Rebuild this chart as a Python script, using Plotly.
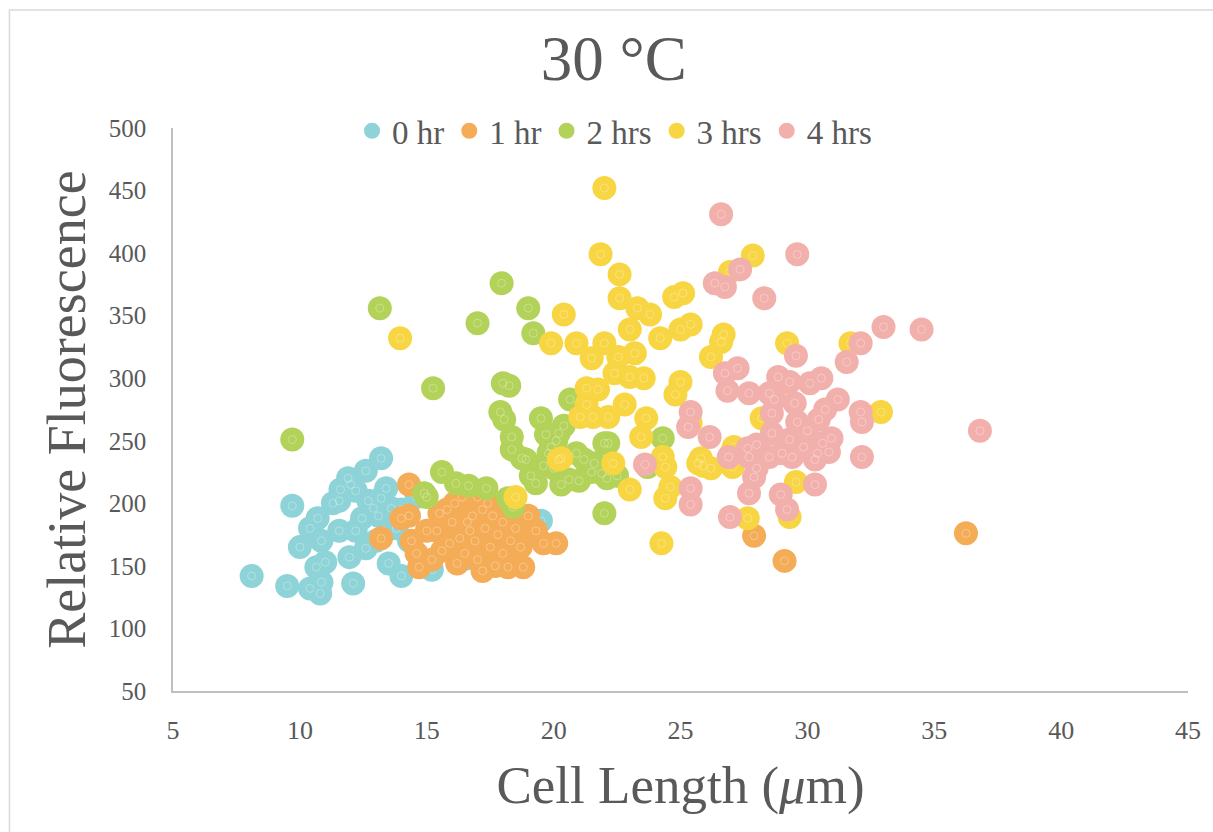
import plotly.graph_objects as go

# ---- data ----
series_names = ["0 hr", "1 hr", "2 hrs", "3 hrs", "4 hrs"]
series_colors = ["#8DD3D7", "#F4AC56", "#B2D259", "#F8D542", "#F2B0AC"]

hr0_x = [8.1, 9.5, 9.7, 10.0, 10.4, 10.7, 10.85, 11.0, 10.65, 10.4, 10.8, 10.85, 11.55, 11.9, 11.6, 11.55,
         11.95, 12.1, 12.6, 13.2, 12.2, 12.7, 13.2, 12.45, 13.0, 13.5, 14.0, 12.2, 12.6, 13.1, 13.6, 14.0,
         14.6, 15.2, 16.6, 19.5, 13.8, 12.9, 11.3, 12.0, 13.4, 14.3]
hr0_y = [142, 134, 198, 165, 180, 188, 170, 153, 149, 132, 128, 137, 178, 220, 211, 202,
         157, 136, 226, 236, 210, 202, 204, 188, 170, 152, 142, 178, 164, 190, 196, 195,
         205, 147, 156, 186, 180, 196, 200, 215, 212, 170]

hr1_x = [14.3, 13.2, 14.4, 14.7, 14.0, 14.3, 15.0, 15.4, 15.6, 15.2, 15.8, 16.1, 16.0, 16.3, 16.5, 16.8,
         17.0, 17.2, 17.3, 17.2, 17.5, 17.8, 16.7, 16.9, 17.0, 17.6, 18.0, 18.2, 18.3, 18.5, 18.8, 18.7,
         19.0, 19.3, 19.6, 20.1, 16.4, 16.6, 15.9, 17.4, 18.0, 16.2, 15.5, 14.6, 17.7, 27.9, 29.1, 36.25]
hr1_y = [215, 172, 170, 149, 188, 190, 178, 178, 162, 155, 195, 200, 185, 172, 160, 190,
         205, 195, 180, 146, 165, 175, 178, 170, 155, 190, 185, 149, 170, 180, 149, 165,
         190, 178, 168, 168, 205, 185, 168, 200, 160, 152, 192, 160, 150, 174, 154, 176]

hr2_x = [9.7, 13.15, 15.25, 15.0, 17.95, 17.0, 19.0, 19.2, 18.0, 18.25, 17.9, 18.05, 19.5, 20.65, 18.35,
         18.35, 18.75, 20.2, 21.2, 22.0, 15.6, 16.15, 16.65, 17.35, 14.9, 19.3, 20.6, 18.4, 19.6, 19.9,
         20.4, 20.1, 19.1, 20.0, 21.5, 21.0, 22.1, 22.0, 22.15, 24.3, 20.9, 19.7, 21.6, 18.9, 21.9, 22.5,
         20.3, 19.8, 18.2, 23.7]
hr2_y = [251, 356, 292, 205, 376, 344, 356, 336, 296, 294, 273, 267, 268, 283, 253,
         243, 236, 256, 235, 248, 225, 216, 214, 212, 208, 216, 219, 197, 230, 245,
         262, 250, 222, 228, 225, 218, 220, 192, 248, 252, 240, 255, 232, 235, 224, 222,
         215, 240, 204, 229]

hr3_x = [13.95, 22.0, 21.85, 22.6, 22.6, 23.3, 23.8, 24.75, 25.1, 23.0, 24.2, 25.0, 25.4, 20.4, 19.9,
         20.9, 22.0, 21.5, 22.55, 23.2, 22.4, 23.0, 23.55, 25.0, 24.8, 26.7, 26.6, 26.2, 27.85, 26.95,
         21.3, 21.75, 21.3, 21.05, 21.55, 22.15, 22.8, 23.65, 23.45, 25.4, 25.7, 26.2, 27.0, 24.3, 24.4,
         24.4, 24.25, 23.0, 22.35, 20.2, 18.5, 27.65, 29.2, 31.7, 32.9, 29.55, 29.3, 25.8, 27.1, 27.05,
         28.2, 25.9, 29.0, 24.6, 20.3]
hr3_y = [332, 452, 399, 383, 364, 356, 351, 365, 368, 339, 332, 339, 343, 351, 328,
         328, 328, 316, 317, 320, 304, 301, 300, 297, 287, 335, 329, 317, 398, 385,
         292, 291, 279, 269, 269, 269, 279, 268, 253, 264, 232, 228, 240, 237, 229,
         204, 168, 211, 232, 235, 205, 188, 328, 328, 273, 217, 189, 236, 245, 229,
         268, 230, 296, 213, 236]

hr4_x = [26.6, 29.6, 26.35, 26.75, 27.35, 28.3, 33.0, 34.5, 29.55, 32.1, 31.55, 26.75, 27.25, 26.85,
         27.7, 28.85, 29.3, 28.5, 29.5, 30.1, 30.55, 31.2, 30.7, 30.45, 32.1, 32.15, 36.8, 32.15, 25.4,
         25.3, 26.15, 23.6, 26.9, 27.7, 28.5, 28.0, 28.6, 28.6, 28.7, 29.3, 29.85, 30.4, 30.95, 30.85,
         29.4, 28.0, 27.9, 30.3, 30.3, 27.7, 28.95, 29.2, 25.4, 25.4, 26.95, 27.65, 30.0, 29.6, 29.0, 30.6]
hr4_y = [431, 399, 376, 373, 387, 364, 341, 339, 318, 328, 313, 304, 308, 290,
         288, 301, 297, 288, 280, 296, 300, 283, 275, 267, 273, 265, 258, 237, 273,
         261, 253, 231, 237, 237, 237, 247, 256, 272, 283, 251, 245, 240, 252, 241,
         237, 228, 221, 235, 215, 208, 207, 195, 212, 199, 189, 244, 258, 265, 240, 248]

x_ticks = [5, 10, 15, 20, 25, 30, 35, 40, 45]
y_ticks = [50, 100, 150, 200, 250, 300, 350, 400, 450, 500]

xs = [hr0_x, hr1_x, hr2_x, hr3_x, hr4_x]
ys = [hr0_y, hr1_y, hr2_y, hr3_y, hr4_y]

FONT = "Liberation Serif, Times New Roman, serif"
TXT = "#595959"

fig = go.Figure()
for name, col, x, y in zip(series_names, series_colors, xs, ys):
    fig.add_trace(go.Scatter(
        x=x, y=y, mode="markers", name=name,
        marker=dict(size=24, color=col, line=dict(width=0)),
        legendgroup=name,
    ))
    fig.add_trace(go.Scatter(
        x=x, y=y, mode="markers", showlegend=False, hoverinfo="skip",
        legendgroup=name,
        marker=dict(size=8, symbol="circle-open", color="rgba(255,255,255,0.3)",
                    line=dict(width=1, color="rgba(255,255,255,0.3)")),
    ))

fig.update_layout(
    width=1213, height=832,
    margin=dict(l=173, r=16, t=128, b=141),
    paper_bgcolor="white", plot_bgcolor="white",
    font=dict(family=FONT, color=TXT),
    title=dict(text="30 °C", x=0.506, xanchor="center", y=0.93, yanchor="middle",
               font=dict(size=63, family=FONT, color=TXT)),
    legend=dict(orientation="h", x=0.435, xanchor="center", y=0.995, yanchor="middle",
                font=dict(size=33, family=FONT, color=TXT), itemsizing="trace",
                bgcolor="rgba(0,0,0,0)", tracegroupgap=0, itemwidth=30),
    showlegend=True,
)
fig.update_xaxes(
    range=[5, 45], tickvals=x_ticks, showgrid=False, zeroline=False,
    showline=True, linecolor="#BFBFBF", linewidth=1.5,
    ticks="outside", ticklen=15, tickcolor="rgba(0,0,0,0)",
    ticklabeloverflow="allow",
    tickfont=dict(size=26, family=FONT, color=TXT),
    title=dict(text="Cell Length (<i>μ</i>m)", font=dict(size=53, family=FONT, color=TXT), standoff=22),
)
fig.update_yaxes(
    range=[50, 500], tickvals=y_ticks, showgrid=False, zeroline=False,
    showline=True, linecolor="#BFBFBF", linewidth=1.5,
    ticks="outside", ticklen=20, tickcolor="rgba(0,0,0,0)",
    tickfont=dict(size=25, family=FONT, color=TXT),
    title=dict(text="Relative Fluorescence", font=dict(size=54, family=FONT, color=TXT), standoff=6),
)
# outer chart frame (light grey)
fig.add_shape(type="rect", xref="paper", yref="paper",
              x0=(8 - 173) / 1024, x1=(1230 - 173) / 1024,
              y0=(691 - 850) / 563, y1=(691 - 10) / 563,
              line=dict(color="#D9D9D9", width=1.5), fillcolor="rgba(0,0,0,0)", layer="below")

fig.write_html("out.html")
